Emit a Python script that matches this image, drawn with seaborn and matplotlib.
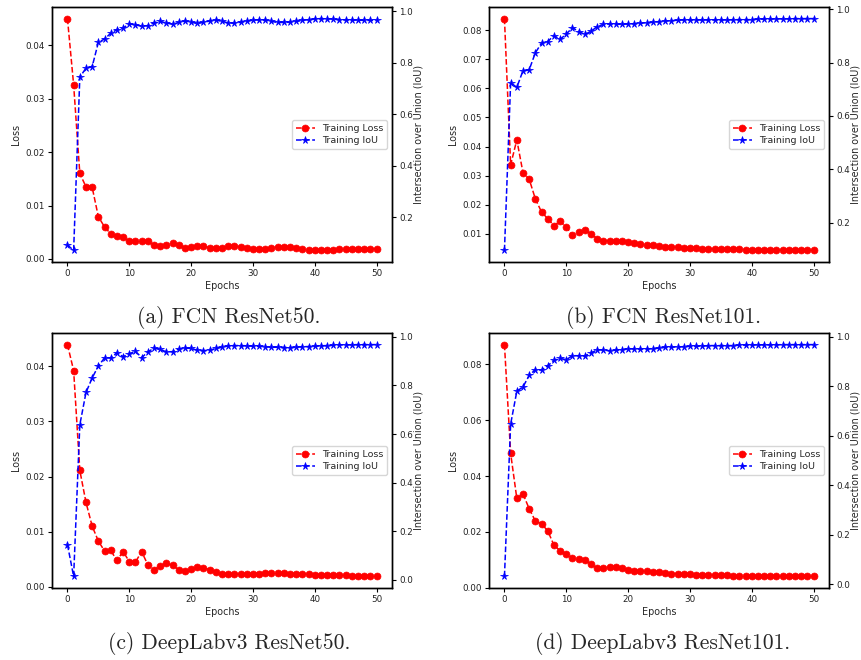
import numpy as np
import pandas as pd
import matplotlib
matplotlib.use("Agg")
import matplotlib.pyplot as plt
import seaborn as sns

epochs = list(range(51))

fcn50_loss = [0.0450, 0.0326, 0.0160, 0.0135, 0.0134, 0.0079, 0.0060, 0.0047, 0.0043, 0.0041,
              0.0033, 0.0033, 0.0034, 0.0033, 0.0026, 0.0024, 0.0026, 0.0030, 0.0026, 0.0021,
              0.0023, 0.0025, 0.0024, 0.0021, 0.0020, 0.0021, 0.0024, 0.0024, 0.0023, 0.0021,
              0.0019, 0.0019, 0.0019, 0.0021, 0.0023, 0.0023, 0.0022, 0.0021, 0.0019, 0.0017,
              0.0016, 0.0016, 0.0016, 0.0017, 0.0018, 0.0018, 0.0018, 0.0018, 0.0019, 0.0019,
              0.0019]
fcn50_iou = [0.093, 0.072, 0.744, 0.779, 0.785, 0.879, 0.892, 0.914, 0.928, 0.934,
             0.951, 0.947, 0.941, 0.944, 0.954, 0.960, 0.954, 0.949, 0.956, 0.962,
             0.957, 0.952, 0.956, 0.962, 0.965, 0.961, 0.954, 0.953, 0.957, 0.961,
             0.965, 0.966, 0.965, 0.960, 0.956, 0.956, 0.957, 0.960, 0.964, 0.967,
             0.970, 0.971, 0.970, 0.969, 0.967, 0.966, 0.965, 0.965, 0.964, 0.964,
             0.964]

fcn101_loss = [0.0840, 0.0337, 0.0423, 0.0310, 0.0288, 0.0220, 0.0175, 0.0152, 0.0128, 0.0144,
               0.0122, 0.0097, 0.0108, 0.0113, 0.0100, 0.0083, 0.0077, 0.0076, 0.0076, 0.0075,
               0.0072, 0.0069, 0.0065, 0.0062, 0.0060, 0.0057, 0.0055, 0.0054, 0.0054, 0.0053,
               0.0052, 0.0050, 0.0049, 0.0049, 0.0048, 0.0048, 0.0047, 0.0047, 0.0047, 0.0046,
               0.0046, 0.0045, 0.0045, 0.0045, 0.0045, 0.0043, 0.0043, 0.0043, 0.0043, 0.0043,
               0.0043]
fcn101_iou = [0.096, 0.725, 0.707, 0.770, 0.773, 0.837, 0.873, 0.879, 0.901, 0.887,
              0.907, 0.931, 0.916, 0.906, 0.917, 0.935, 0.943, 0.945, 0.945, 0.943,
              0.945, 0.946, 0.947, 0.950, 0.951, 0.954, 0.956, 0.957, 0.959, 0.960,
              0.960, 0.960, 0.960, 0.960, 0.960, 0.960, 0.960, 0.961, 0.961, 0.961,
              0.961, 0.963, 0.963, 0.963, 0.964, 0.964, 0.964, 0.965, 0.965, 0.965,
              0.965]

dl50_loss = [0.0439, 0.0392, 0.0211, 0.0153, 0.0110, 0.0083, 0.0065, 0.0066, 0.0048, 0.0064,
             0.0046, 0.0045, 0.0064, 0.0040, 0.0031, 0.0038, 0.0043, 0.0039, 0.0031, 0.0028,
             0.0032, 0.0036, 0.0035, 0.0031, 0.0027, 0.0024, 0.0023, 0.0023, 0.0023, 0.0024,
             0.0024, 0.0024, 0.0025, 0.0025, 0.0025, 0.0025, 0.0024, 0.0024, 0.0024, 0.0023,
             0.0022, 0.0022, 0.0022, 0.0021, 0.0021, 0.0021, 0.0020, 0.0020, 0.0020, 0.0019,
             0.0019]
dl50_iou = [0.145, 0.014, 0.638, 0.771, 0.831, 0.880, 0.913, 0.913, 0.934, 0.918,
            0.930, 0.941, 0.914, 0.938, 0.953, 0.948, 0.938, 0.939, 0.949, 0.954,
            0.952, 0.945, 0.943, 0.945, 0.952, 0.957, 0.963, 0.964, 0.964, 0.963,
            0.961, 0.961, 0.959, 0.957, 0.957, 0.956, 0.956, 0.957, 0.959, 0.960,
            0.961, 0.963, 0.964, 0.965, 0.967, 0.967, 0.967, 0.968, 0.968, 0.968,
            0.968]

dl101_loss = [0.0870, 0.0481, 0.0320, 0.0336, 0.0283, 0.0239, 0.0229, 0.0204, 0.0153, 0.0133,
              0.0120, 0.0108, 0.0102, 0.0101, 0.0084, 0.0070, 0.0072, 0.0075, 0.0073, 0.0070,
              0.0064, 0.0061, 0.0061, 0.0060, 0.0058, 0.0055, 0.0052, 0.0051, 0.0051, 0.0049,
              0.0048, 0.0047, 0.0047, 0.0046, 0.0046, 0.0045, 0.0045, 0.0043, 0.0043, 0.0043,
              0.0042, 0.0042, 0.0042, 0.0042, 0.0042, 0.0041, 0.0041, 0.0041, 0.0041, 0.0041,
              0.0041]
dl101_iou = [0.031, 0.647, 0.780, 0.798, 0.844, 0.868, 0.866, 0.883, 0.905, 0.913,
             0.908, 0.924, 0.924, 0.923, 0.935, 0.948, 0.947, 0.944, 0.947, 0.948,
             0.953, 0.951, 0.951, 0.951, 0.953, 0.955, 0.958, 0.959, 0.959, 0.961,
             0.962, 0.962, 0.963, 0.965, 0.965, 0.965, 0.965, 0.965, 0.967, 0.967,
             0.967, 0.968, 0.968, 0.968, 0.968, 0.969, 0.969, 0.969, 0.969, 0.969,
             0.969]

captions = ["(a) FCN ResNet50.", "(b) FCN ResNet101.",
            "(c) DeepLabv3 ResNet50.", "(d) DeepLabv3 ResNet101."]
loss_label = "Training Loss"
iou_label = "Training IoU"
xlabel = "Epochs"
ylabel_left = "Loss"
ylabel_right = "Intersection over Union (IoU)"

sns.set_style("ticks")
plt.rcParams["font.family"] = ["DejaVu Sans"]
plt.rcParams["axes.edgecolor"] = "black"
plt.rcParams["axes.linewidth"] = 1.0

W, H = 862, 660
fig = plt.figure(figsize=(W / 100, H / 100), dpi=100)

# axes boxes in pixels: left, top, right, bottom
boxes = [(52, 7, 392, 262), (489, 7, 829, 262),
         (52, 333, 392, 588), (489, 333, 829, 588)]
cap_pos = [(229, 323), (663, 323), (229, 649), (663, 649)]
data = [(fcn50_loss, fcn50_iou), (fcn101_loss, fcn101_iou),
        (dl50_loss, dl50_iou), (dl101_loss, dl101_iou)]

tick_fs = 6.3
lab_fs = 6.9
leg_fs = 6.8

for (l, t, r, b), (loss, iou), cap, (cx, cy) in zip(boxes, data, captions, cap_pos):
    ax = fig.add_axes([l / W, 1 - b / H, (r - l) / W, (b - t) / H])
    df = pd.DataFrame({"epoch": epochs, "loss": loss, "iou": iou})
    sns.lineplot(data=df, x="epoch", y="loss", ax=ax, color="red", marker="o",
                 linestyle="--", markersize=5, markeredgecolor="red",
                 markeredgewidth=0.5, linewidth=1.1, label=loss_label, legend=False)
    ax2 = ax.twinx()
    sns.lineplot(data=df, x="epoch", y="iou", ax=ax2, color="blue", marker="*",
                 linestyle="--", markersize=5.5, markeredgecolor="blue",
                 markeredgewidth=0.5, linewidth=1.1, label=iou_label, legend=False)
    ax.set_xlabel(xlabel, fontsize=lab_fs, labelpad=2)
    ax.set_ylabel(ylabel_left, fontsize=lab_fs, labelpad=3)
    ax2.set_ylabel(ylabel_right, fontsize=lab_fs, labelpad=0.5)
    ax.set_xticks([0, 10, 20, 30, 40, 50])
    for a in (ax, ax2):
        a.tick_params(labelsize=tick_fs, length=3, width=0.8, pad=2,
                      colors="black", labelcolor="#222222")
        for s in a.spines.values():
            s.set_visible(True)
            s.set_color("black")
    h1, l1 = ax.get_legend_handles_labels()
    h2, l2 = ax2.get_legend_handles_labels()
    leg = ax2.legend(h1 + h2, l1 + l2, loc="center right", fontsize=leg_fs,
                     frameon=True, framealpha=0.8, edgecolor="#cccccc",
                     handlelength=2.0, borderpad=0.4, labelspacing=0.3)
    fig.text(cx / W, 1 - cy / H, cap, family="cmr10", fontsize=15.5,
             ha="center", va="baseline")

fig.savefig("out.png", dpi=100)
